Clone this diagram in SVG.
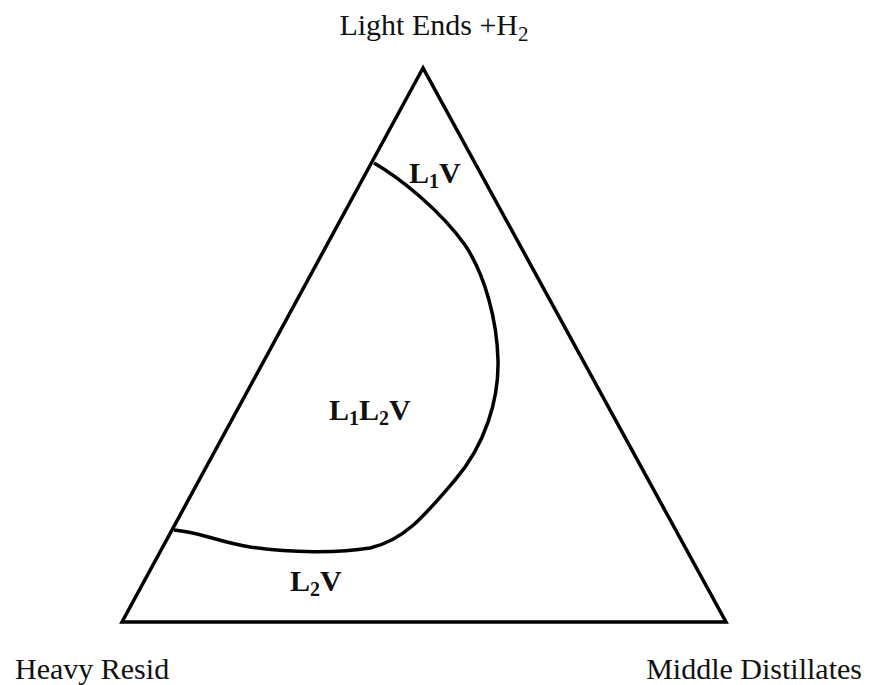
<svg xmlns="http://www.w3.org/2000/svg" width="876" height="685" viewBox="0 0 876 685">
<style>
.t{font-family:"Liberation Serif","Times New Roman",serif;fill:#111;font-size:30px}
.b{font-family:"Liberation Serif","Times New Roman",serif;fill:#111;font-size:30px;font-weight:bold}
.ln{fill:none;stroke:#000;stroke-width:3.5;stroke-linejoin:miter}
</style>
<rect width="876" height="685" fill="#fff"/>
<g id="triangle"><path class="ln" d="M423,68 L122,622 L726,622 Z"/></g>
<g id="connectors"><path class="ln" d="M374,163 C400,178 440,210 465,245 C485,275 497,320 498,360 C499,400 485,445 455,480 C425,515 405,540 370,548 C340,553 290,553 250,547 C215,541 200,532 174,530"/></g>
<g id="top-label"><text class="t" x="434" y="35" text-anchor="middle">Light Ends +H<tspan font-size="21" dy="6">2</tspan></text></g>
<g id="left-label"><text class="t" x="15" y="679">Heavy Resid</text></g>
<g id="right-label"><text class="t" x="862" y="679" text-anchor="end">Middle Distillates</text></g>
<g id="L1V"><text class="b" x="409" y="183">L<tspan font-size="20" dy="5">1</tspan><tspan dy="-5">V</tspan></text></g>
<g id="L1L2V"><text class="b" x="329" y="420">L<tspan font-size="20" dy="5">1</tspan><tspan dy="-5">L</tspan><tspan font-size="20" dy="5">2</tspan><tspan dy="-5">V</tspan></text></g>
<g id="L2V"><text class="b" x="290" y="591">L<tspan font-size="20" dy="5">2</tspan><tspan dy="-5">V</tspan></text></g>
</svg>
